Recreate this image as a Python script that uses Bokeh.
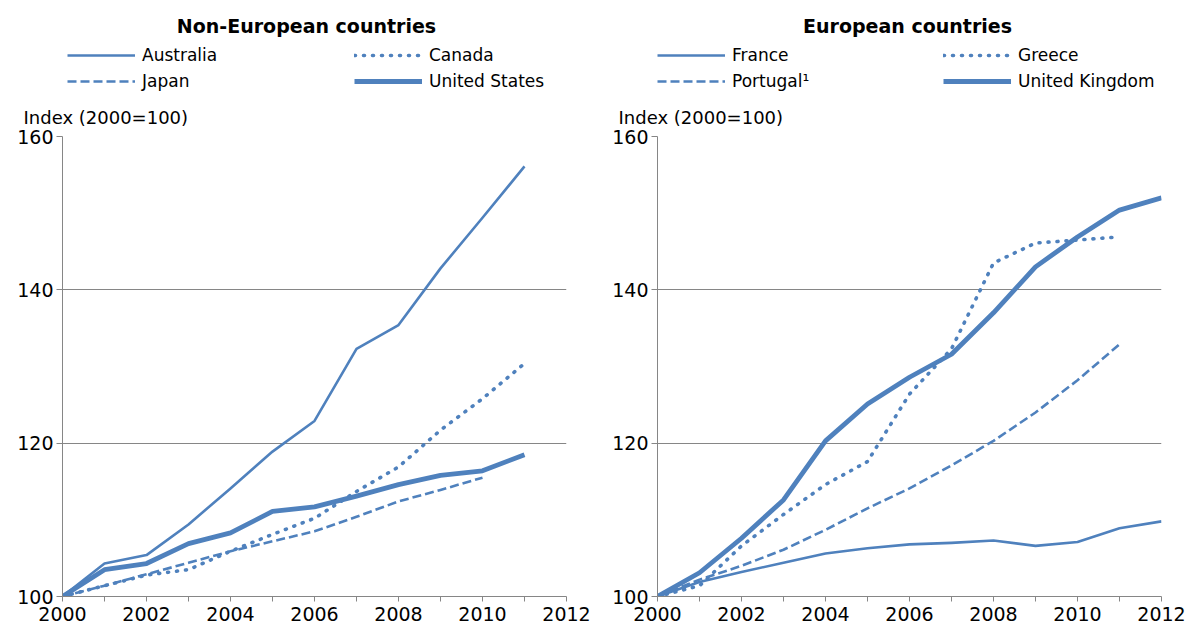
from bokeh.plotting import figure
from bokeh.layouts import row, column
from bokeh.models import Legend, LegendItem, FixedTicker, Range1d, Label, Title
from bokeh.embed import file_html
from bokeh.resources import INLINE

# ---------------- data ----------------
years_ne = [2000, 2001, 2002, 2003, 2004, 2005, 2006, 2007, 2008, 2009, 2010, 2011]
australia = [100, 104.3, 105.4, 109.4, 114.1, 118.9, 122.9, 132.3, 135.4, 142.8, 149.4, 156.1]
canada = [100, 101.4, 102.8, 103.5, 105.9, 108.1, 110.2, 113.7, 116.9, 121.7, 125.8, 130.4]
years_japan = [2000, 2001, 2002, 2003, 2004, 2005, 2006, 2007, 2008, 2009, 2010]
japan = [100, 101.4, 102.9, 104.4, 105.9, 107.2, 108.5, 110.4, 112.4, 113.9, 115.5]
united_states = [100, 103.5, 104.3, 106.9, 108.3, 111.1, 111.7, 113.1, 114.6, 115.8, 116.4, 118.5]

years_eu = [2000, 2001, 2002, 2003, 2004, 2005, 2006, 2007, 2008, 2009, 2010, 2011, 2012]
france = [100, 101.9, 103.2, 104.4, 105.6, 106.3, 106.8, 107.0, 107.3, 106.6, 107.1, 108.9, 109.8]
years_gp = [2000, 2001, 2002, 2003, 2004, 2005, 2006, 2007, 2008, 2009, 2010, 2011]
greece = [100, 101.4, 106.6, 110.7, 114.6, 117.6, 126.4, 132.3, 143.5, 146.1, 146.5, 146.9]
portugal = [100, 102.2, 104.0, 106.1, 108.7, 111.5, 114.1, 117.1, 120.3, 124.0, 128.2, 132.9]
united_kingdom = [100, 103.1, 107.6, 112.6, 120.3, 125.1, 128.6, 131.6, 137.0, 143.0, 146.9, 150.4, 152.0]

tick_years = list(range(2000, 2013))
y_ticks = [100, 120, 140, 160]

BLUE = "#4F81BD"
GREY = "#868686"
FONT = "DejaVu Sans"
FIG_W = 594
HEAD_H = 94
FRAME_W = 504
FRAME_H = 460


def style_kw(style):
    kw = dict(line_color=BLUE, line_join="round")
    if style == "solid":
        kw.update(line_width=2.6)
    elif style == "dot":
        kw.update(line_width=3.6, line_dash="1 8", line_cap="round")
    elif style == "dash":
        kw.update(line_width=2.6, line_dash="9 4")
    elif style == "thick":
        kw.update(line_width=4.8)
    return kw


def make_header(title, title_x, series, leg_x):
    # header strip: the chart title and the legend (its frame is aligned with the chart's frame)
    h = figure(width=FIG_W, height=HEAD_H, x_axis_type=None, y_axis_type=None,
               x_range=Range1d(0, 1), y_range=Range1d(0, 1),
               min_border=0, output_backend="svg", toolbar_location=None)
    h.outline_line_color = None
    h.grid.visible = False
    h.background_fill_color = "white"
    h.border_fill_color = "white"
    items = []
    for name, xs, ys, style in series:
        # same series, outside this strip's ranges: only its legend key shows
        r = h.line(xs, ys, **style_kw(style))
        items.append(LegendItem(label=name, renderers=[r]))
    for cx, col in zip(leg_x, [[items[0], items[2]], [items[1], items[3]]]):
        leg = Legend(items=col, location=(cx, 3), orientation="vertical",
                     glyph_width=68, glyph_height=20, label_height=20,
                     label_standoff=7, spacing=6, padding=0, margin=0,
                     border_line_color=None, background_fill_alpha=0,
                     label_text_font=FONT, label_text_font_size="17px",
                     label_text_color="black")
        h.add_layout(leg, "center")
    h.add_layout(Label(x=title_x, y=HEAD_H - 25, x_units="screen", y_units="screen",
                       text=title, text_align="center", text_baseline="middle",
                       text_font=FONT, text_font_size="19px", text_font_style="bold",
                       text_color="black"))
    return h


def make_panel(left_border, right_border, series):
    p = figure(title=None, frame_width=FRAME_W, frame_height=FRAME_H,
               min_border_left=left_border, min_border_right=right_border,
               min_border_top=42, min_border_bottom=32,
               x_range=Range1d(2000, 2012), y_range=Range1d(100, 160),
               output_backend="svg", toolbar_location=None)
    p.outline_line_color = None
    p.background_fill_color = "white"
    p.border_fill_color = "white"

    p.xgrid.grid_line_color = None
    p.ygrid.grid_line_color = GREY
    p.ygrid.grid_line_width = 1
    p.ygrid.ticker = FixedTicker(ticks=y_ticks)

    p.xaxis.ticker = FixedTicker(ticks=tick_years)
    p.xaxis.major_label_overrides = {y: (str(y) if y % 2 == 0 else "") for y in tick_years}
    p.yaxis.ticker = FixedTicker(ticks=y_ticks)
    for ax in (p.xaxis, p.yaxis):
        ax.axis_line_color = GREY
        ax.major_tick_line_color = GREY
        ax.major_tick_in = 0
        ax.major_tick_out = 5
        ax.minor_tick_line_color = None
        ax.major_label_text_font = FONT
        ax.major_label_text_font_size = "19px"
        ax.major_label_text_color = "black"
    p.yaxis.major_tick_out = 6
    p.xaxis.major_label_standoff = 5
    p.yaxis.major_label_standoff = 3

    p.add_layout(Title(text="Index (2000=100)", align="left", offset=-39, standoff=18,
                       text_font=FONT, text_font_size="18px", text_font_style="normal",
                       text_color="black"), "above")

    for name, xs, ys, style in series:
        p.line(xs, ys, **style_kw(style))
    return p


series_ne = [("Australia", years_ne, australia, "solid"),
             ("Canada", years_ne, canada, "dot"),
             ("Japan", years_japan, japan, "dash"),
             ("United States", years_ne, united_states, "thick")]
series_eu = [("France", years_eu, france, "solid"),
             ("Greece", years_gp, greece, "dot"),
             ("Portugal\u00b9", years_gp, portugal, "dash"),
             ("United Kingdom", years_eu, united_kingdom, "thick")]

left = column(make_header("Non-European countries", 244, series_ne, [5, 292]),
              make_panel(62, 28, series_ne))
right = column(make_header("European countries", 250, series_eu, [0, 286]),
               make_panel(63, 27, series_eu))

layout = row(left, right)
open("out.html", "w").write(file_html(layout, INLINE))
